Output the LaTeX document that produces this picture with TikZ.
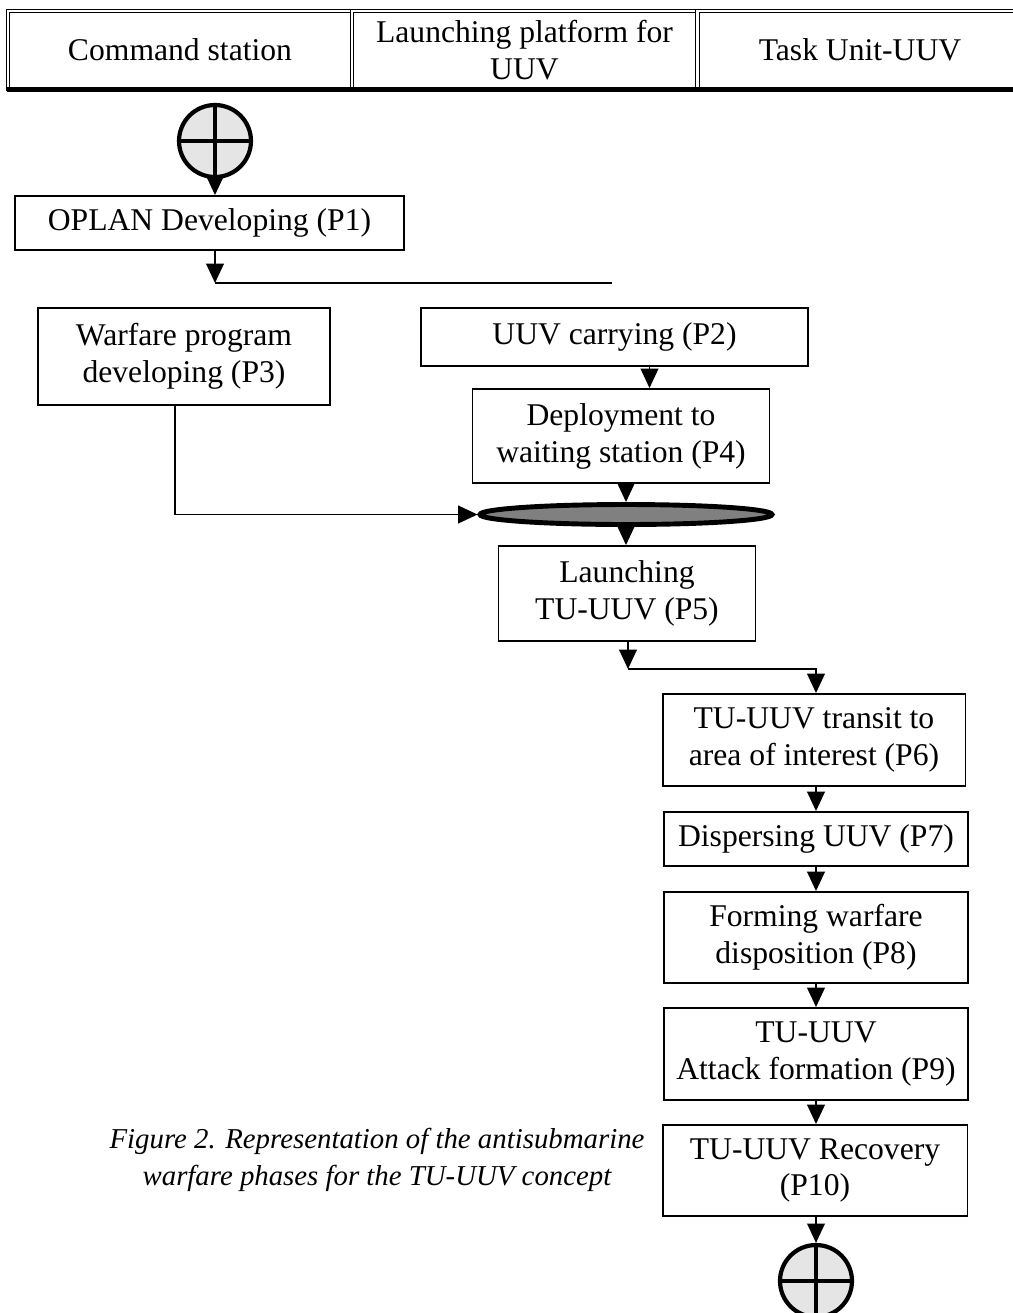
\documentclass[tikz,border=0pt]{standalone}
\usepackage{fontspec}
\setmainfont{Liberation Serif}
\usetikzlibrary{arrows.meta,shapes.geometric}
\newcommand\phasefont{\fontsize{18}{21}\selectfont}
\tikzset{every path/.style={line width=1.1pt}, >={Triangle[length=11pt,width=10pt]},
  phase/.style={draw, fill=white, align=center, inner sep=0pt, font=\phasefont},
  lane/.style={draw, double, double distance=1.4pt, line width=0.7pt, align=center, inner sep=0pt,
    minimum height=1.56cm, font=\phasefont},
  terminal/.style={circle, draw, line width=2.4pt, fill=gray!20, minimum size=1.44cm, inner sep=0pt},
  sync/.style={ellipse, draw, line width=2.8pt, fill=gray, minimum width=5.84cm, minimum height=0.4cm}}

\begin{document}
\begin{tikzpicture}[x=0.02cm,y=-0.02cm]
      \useasboundingbox (0,0) rectangle (1013,1313);
      \node[lane, minimum width=6.88cm] (h1) at (180,50)  {Command station};
      \node[lane, minimum width=6.9cm]  (h2) at (524.5,50) {Launching platform for\\UUV};
      \node[lane, minimum width=6.5cm]  (h3) at (860,50)  {Task Unit-UUV};
      \draw[line width=2.6pt] (h1.south west) -- (h3.south east);

      \node[terminal] (s) at (215,141) {};
      \draw[line width=2.2pt] (s.north) -- (s.south) (s.west) -- (s.east);

      \node[phase, minimum width=7.78cm, minimum height=1.08cm] (p1)  at (209.5,223) {OPLAN Developing (P1)};
      \node[phase, minimum width=5.84cm, minimum height=1.94cm] (p3)  at (184,356.5) {Warfare program\\developing (P3)};
      \node[phase, minimum width=7.74cm, minimum height=1.16cm] (p2)  at (614.5,337) {UUV carrying (P2)};
      \node[phase, minimum width=5.94cm, minimum height=1.88cm] (p4)  at (621,436)   {Deployment to\\waiting station (P4)};
      \node[sync] (e) at (626,514.5) {};
      \node[phase, minimum width=5.14cm, minimum height=1.9cm]  (p5)  at (627,593.5) {Launching\\TU-UUV (P5)};
      \node[phase, minimum width=6.06cm, minimum height=1.84cm] (p6)  at (814,740)   {TU-UUV transit to\\area of interest (P6)};
      \node[phase, minimum width=6.08cm, minimum height=1.08cm] (p7)  at (816,839)   {Dispersing UUV (P7)};
      \node[phase, minimum width=6.08cm, minimum height=1.82cm] (p8)  at (816,937.5) {Forming warfare\\disposition (P8)};
      \node[phase, minimum width=6.08cm, minimum height=1.84cm] (p9)  at (816,1054)  {TU-UUV\\Attack formation (P9)};
      \node[phase, minimum width=6.1cm,  minimum height=1.82cm] (p10) at (815,1170.5) {TU-UUV Recovery\\(P10)};

      \node[terminal] (t) at (816,1281) {};
      \draw[line width=2.2pt] (t.north) -- (t.south) (t.west) -- (t.east);

      \coordinate (f)  at (215,283);
      \coordinate (fe) at (612,283);
      \coordinate (k)  at (628,669);

      \draw[->] (s) -- (s |- p1.north);
      \draw[->] (p1.south -| f) -- (f);
      \draw (f) -- (fe);
      \draw[->] ([xshift=0.7cm]p2.south) -- ([xshift=0.7cm]p2.south |- p4.north);
      \draw[->] (p4.south -| e) -- (e);
      \draw[->] ([xshift=-0.18cm]p3.south) |- (e.west);
      \draw[->] (e) -- (e |- p5.north);
      \draw[->] (p5.south -| k) -- (k);
      \draw[->] (k) -| (p7 |- p6.north);
      \draw[->] (p6.south -| p7) -- (p7);
      \draw[->] (p7) -- (p8);
      \draw[->] (p8) -- (p9);
      \draw[->] (p9.south -| p7) -- (p7 |- p10.north);
      \draw[->] (p10.south -| t) -- (t);

      \node[font=\fontsize{16.4}{21}\selectfont\itshape, align=center] (cap) at (377,1160)
        {Figure 2. Representation of the antisubmarine\\warfare phases for the TU-UUV concept};
      \end{tikzpicture}
\end{document}
